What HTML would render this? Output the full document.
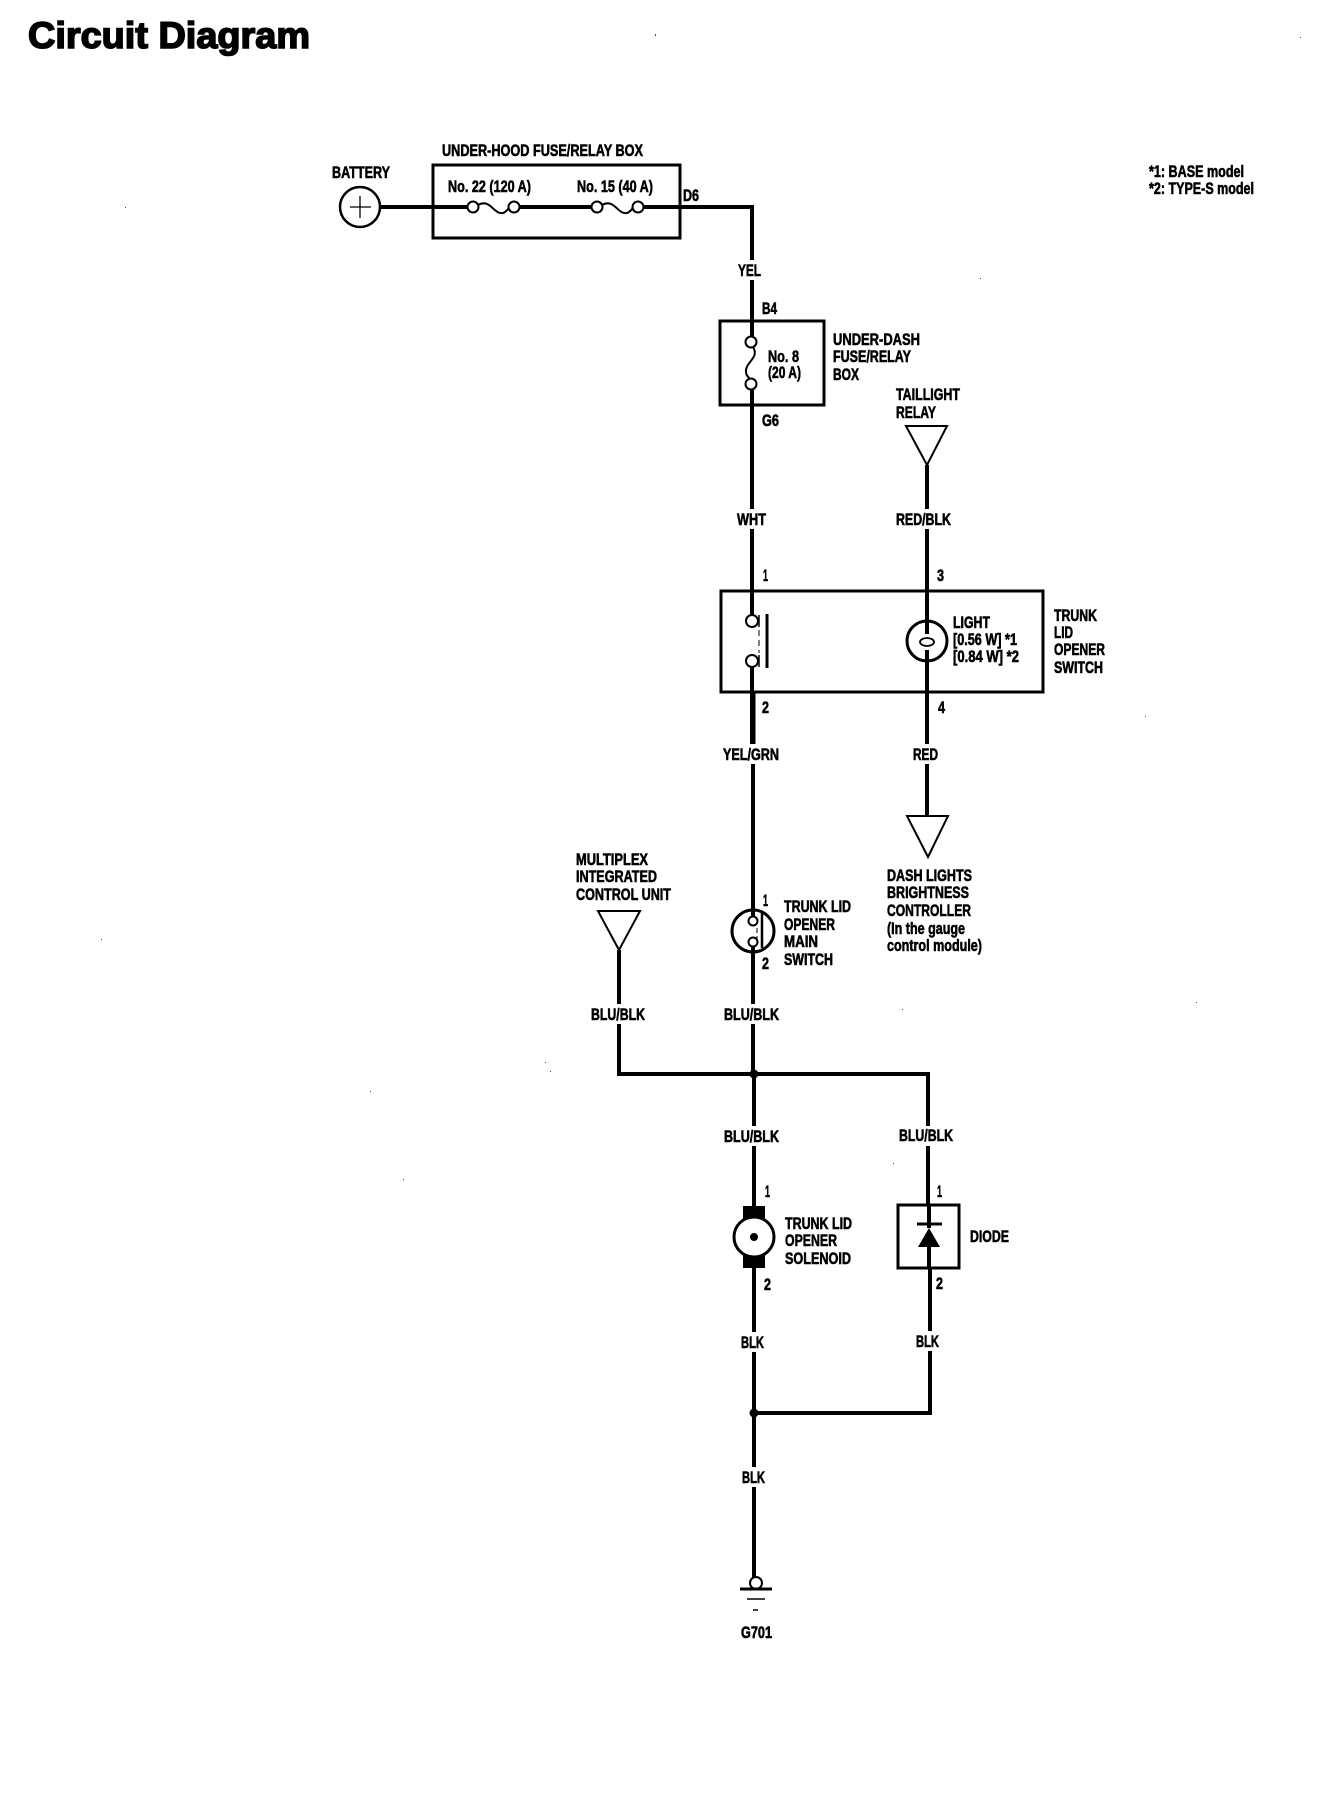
<!DOCTYPE html>
<html><head><meta charset="utf-8"><style>
html,body{margin:0;padding:0;background:#fff}
svg{display:block}
text{font-family:"Liberation Sans",sans-serif;font-weight:bold;font-size:16.5px;fill:#000;stroke:#000;stroke-width:.6}
.w{stroke:#000;stroke-width:4;fill:none}
.b{stroke:#000;stroke-width:3;fill:none}
.t{stroke:#000;stroke-width:2;fill:#fff}
</style></head><body>
<svg width="1328" height="1808" viewBox="0 0 1328 1808" xmlns="http://www.w3.org/2000/svg">
<rect width="1328" height="1808" fill="#fff"/>
<rect class="b" x="433" y="165" width="247" height="73"/>
<rect class="b" x="720" y="321" width="104" height="84"/>
<rect class="b" x="721" y="591" width="322" height="101"/>
<rect class="b" x="898" y="1205" width="61" height="63"/>
<path class="w" d="M380 207H467M520 207H591M644 207H752V336M752 390V591V615M752 667V692V750"/>
<path class="w" d="M753 750V921M753 948V1074H619V950M753 1074H928V1205M754 1074V1206M754 1268V1413V1577M754 1413H930V1268M929 1205V1228M929 1247V1268"/>
<path class="w" d="M927 465V634M927 650V816"/>
<path d="M753 692V750" stroke="#000" stroke-width="5"/>
<circle cx="360" cy="207" r="20" fill="#fff" stroke="#000" stroke-width="2.5"/>
<path d="M350 207H371M360 196V218" stroke="#000" stroke-width="1.3"/>
<circle class="t" cx="473" cy="207" r="5.5"/><circle class="t" cx="514" cy="207" r="5.5"/>
<path d="M478 205C490 198 494 215 503 213C506 212 507 210 509 208" class="t" style="fill:none"/>
<circle class="t" cx="597" cy="207" r="5.5"/><circle class="t" cx="638" cy="207" r="5.5"/>
<path d="M602 205C614 198 618 215 627 213C630 212 631 210 633 208" class="t" style="fill:none"/>
<circle class="t" cx="751" cy="342" r="5.5"/><circle class="t" cx="751" cy="384" r="5.5"/>
<path d="M753 347C760 358 745 362 746 372C746 375 748 377 750 379" class="t" style="fill:none"/>
<circle class="t" cx="752" cy="621" r="6"/><circle class="t" cx="752" cy="661" r="6"/>
<path d="M759 615V627M759 655V667" stroke="#000" stroke-width="1.5"/>
<path d="M759 630V653" stroke="#000" stroke-width="1" stroke-dasharray="6 4"/>
<path d="M767 614V668" stroke="#000" stroke-width="3"/>
<circle cx="927" cy="641" r="20" fill="none" stroke="#000" stroke-width="3"/>
<ellipse cx="927" cy="642" rx="7" ry="4" fill="none" stroke="#000" stroke-width="1.8"/>
<path class="t" d="M906 426H947L927 465Z"/>
<path class="t" d="M907 816H948L928 857Z"/>
<path class="t" d="M598 911H640L619 950Z"/>
<circle cx="753" cy="931" r="21" fill="#fff" stroke="#000" stroke-width="3"/>
<circle class="t" cx="753" cy="921" r="4.5"/><circle class="t" cx="753" cy="942" r="4.5"/>
<path d="M753 910V916M753 947V952" stroke="#000" stroke-width="4"/>
<path d="M762 913V948" stroke="#000" stroke-width="2.5"/>
<path d="M757 928V942" stroke="#000" stroke-width="1" stroke-dasharray="5 3"/>
<circle cx="754" cy="1074" r="4.5"/><circle cx="754" cy="1413" r="4.5"/>
<rect x="743" y="1206" width="22" height="62" fill="#000"/>
<circle cx="754" cy="1237" r="20" fill="#fff" stroke="#000" stroke-width="3"/>
<circle cx="754" cy="1237" r="4"/>
<path d="M917 1224H942" stroke="#000" stroke-width="3"/>
<path d="M929 1228L940 1247H918Z"/>
<circle class="t" cx="756" cy="1583" r="6"/>
<path d="M740 1589H772" stroke="#000" stroke-width="3"/>
<path d="M747 1599H765" stroke="#000" stroke-width="1.5"/>
<path d="M753 1610H758" stroke="#000" stroke-width="1.5"/>
<g fill="#fff">
<rect x="736" y="260" width="30" height="20"/>
<rect x="735" y="509" width="34" height="20"/>
<rect x="894" y="509" width="60" height="20"/>
<rect x="721" y="744" width="60" height="20"/>
<rect x="911" y="744" width="30" height="20"/>
<rect x="589" y="1004" width="58" height="20"/>
<rect x="722" y="1004" width="60" height="20"/>
<rect x="722" y="1126" width="60" height="20"/>
<rect x="897" y="1126" width="58" height="20"/>
<rect x="739" y="1332" width="28" height="20"/>
<rect x="914" y="1331" width="28" height="20"/>
<rect x="740" y="1467" width="28" height="20"/>
</g>
<text x="28" y="48" textLength="282" lengthAdjust="spacingAndGlyphs" style="font-size:37px;stroke-width:1.6">Circuit Diagram</text>
<g>
<text x="442" y="156" textLength="201" lengthAdjust="spacingAndGlyphs">UNDER-HOOD FUSE/RELAY BOX</text>
<text x="332" y="178" textLength="58" lengthAdjust="spacingAndGlyphs">BATTERY</text>
<text x="448" y="192" textLength="83" lengthAdjust="spacingAndGlyphs">No. 22 (120 A)</text>
<text x="577" y="192" textLength="76" lengthAdjust="spacingAndGlyphs">No. 15 (40 A)</text>
<text x="683" y="201" textLength="16" lengthAdjust="spacingAndGlyphs">D6</text>
<text x="738" y="276" textLength="23" lengthAdjust="spacingAndGlyphs">YEL</text>
<text x="762" y="314" textLength="15" lengthAdjust="spacingAndGlyphs">B4</text>
<text x="768" y="362" textLength="31" lengthAdjust="spacingAndGlyphs">No. 8</text>
<text x="768" y="378" textLength="33" lengthAdjust="spacingAndGlyphs">(20 A)</text>
<text x="762" y="426" textLength="17" lengthAdjust="spacingAndGlyphs">G6</text>
<text x="833" y="345" textLength="87" lengthAdjust="spacingAndGlyphs">UNDER-DASH</text>
<text x="833" y="362" textLength="78" lengthAdjust="spacingAndGlyphs">FUSE/RELAY</text>
<text x="833" y="380" textLength="26" lengthAdjust="spacingAndGlyphs">BOX</text>
<text x="896" y="400" textLength="64" lengthAdjust="spacingAndGlyphs">TAILLIGHT</text>
<text x="896" y="418" textLength="40" lengthAdjust="spacingAndGlyphs">RELAY</text>
<text x="737" y="525" textLength="29" lengthAdjust="spacingAndGlyphs">WHT</text>
<text x="896" y="525" textLength="55" lengthAdjust="spacingAndGlyphs">RED/BLK</text>
<text x="763" y="581" textLength="5" lengthAdjust="spacingAndGlyphs">1</text>
<text x="937" y="581" textLength="7" lengthAdjust="spacingAndGlyphs">3</text>
<text x="953" y="628" textLength="37" lengthAdjust="spacingAndGlyphs">LIGHT</text>
<text x="953" y="645" textLength="64" lengthAdjust="spacingAndGlyphs">[0.56 W] *1</text>
<text x="953" y="662" textLength="66" lengthAdjust="spacingAndGlyphs">[0.84 W] *2</text>
<text x="1054" y="621" textLength="43" lengthAdjust="spacingAndGlyphs">TRUNK</text>
<text x="1054" y="638" textLength="19" lengthAdjust="spacingAndGlyphs">LID</text>
<text x="1054" y="655" textLength="51" lengthAdjust="spacingAndGlyphs">OPENER</text>
<text x="1054" y="673" textLength="49" lengthAdjust="spacingAndGlyphs">SWITCH</text>
<text x="762" y="713" textLength="7" lengthAdjust="spacingAndGlyphs">2</text>
<text x="938" y="713" textLength="7" lengthAdjust="spacingAndGlyphs">4</text>
<text x="723" y="760" textLength="56" lengthAdjust="spacingAndGlyphs">YEL/GRN</text>
<text x="913" y="760" textLength="25" lengthAdjust="spacingAndGlyphs">RED</text>
<text x="576" y="865" textLength="72" lengthAdjust="spacingAndGlyphs">MULTIPLEX</text>
<text x="576" y="882" textLength="81" lengthAdjust="spacingAndGlyphs">INTEGRATED</text>
<text x="576" y="900" textLength="95" lengthAdjust="spacingAndGlyphs">CONTROL UNIT</text>
<text x="763" y="906" textLength="5" lengthAdjust="spacingAndGlyphs">1</text>
<text x="784" y="912" textLength="67" lengthAdjust="spacingAndGlyphs">TRUNK LID</text>
<text x="784" y="930" textLength="51" lengthAdjust="spacingAndGlyphs">OPENER</text>
<text x="784" y="947" textLength="34" lengthAdjust="spacingAndGlyphs">MAIN</text>
<text x="784" y="965" textLength="49" lengthAdjust="spacingAndGlyphs">SWITCH</text>
<text x="762" y="969" textLength="7" lengthAdjust="spacingAndGlyphs">2</text>
<text x="591" y="1020" textLength="54" lengthAdjust="spacingAndGlyphs">BLU/BLK</text>
<text x="724" y="1020" textLength="55" lengthAdjust="spacingAndGlyphs">BLU/BLK</text>
<text x="887" y="881" textLength="85" lengthAdjust="spacingAndGlyphs">DASH LIGHTS</text>
<text x="887" y="898" textLength="82" lengthAdjust="spacingAndGlyphs">BRIGHTNESS</text>
<text x="887" y="916" textLength="84" lengthAdjust="spacingAndGlyphs">CONTROLLER</text>
<text x="887" y="934" textLength="78" lengthAdjust="spacingAndGlyphs">(In the gauge</text>
<text x="887" y="951" textLength="95" lengthAdjust="spacingAndGlyphs">control module)</text>
<text x="724" y="1142" textLength="55" lengthAdjust="spacingAndGlyphs">BLU/BLK</text>
<text x="899" y="1141" textLength="54" lengthAdjust="spacingAndGlyphs">BLU/BLK</text>
<text x="765" y="1197" textLength="5" lengthAdjust="spacingAndGlyphs">1</text>
<text x="937" y="1197" textLength="5" lengthAdjust="spacingAndGlyphs">1</text>
<text x="785" y="1229" textLength="67" lengthAdjust="spacingAndGlyphs">TRUNK LID</text>
<text x="785" y="1246" textLength="52" lengthAdjust="spacingAndGlyphs">OPENER</text>
<text x="785" y="1264" textLength="66" lengthAdjust="spacingAndGlyphs">SOLENOID</text>
<text x="970" y="1242" textLength="39" lengthAdjust="spacingAndGlyphs">DIODE</text>
<text x="764" y="1290" textLength="7" lengthAdjust="spacingAndGlyphs">2</text>
<text x="936" y="1289" textLength="7" lengthAdjust="spacingAndGlyphs">2</text>
<text x="741" y="1348" textLength="23" lengthAdjust="spacingAndGlyphs">BLK</text>
<text x="916" y="1347" textLength="23" lengthAdjust="spacingAndGlyphs">BLK</text>
<text x="742" y="1483" textLength="23" lengthAdjust="spacingAndGlyphs">BLK</text>
<text x="741" y="1638" textLength="31" lengthAdjust="spacingAndGlyphs">G701</text>
<text x="1149" y="177" textLength="95" lengthAdjust="spacingAndGlyphs">*1: BASE model</text>
<text x="1149" y="194" textLength="105" lengthAdjust="spacingAndGlyphs">*2: TYPE-S model</text>
</g>
<g fill="#444">
<rect x="655" y="34" width="1" height="2"/><rect x="1300" y="37" width="1" height="1"/>
<rect x="125" y="207" width="1" height="1"/><rect x="980" y="278" width="1" height="1"/>
<rect x="1145" y="716" width="1" height="1"/><rect x="101" y="939" width="1" height="1"/>
<rect x="545" y="1062" width="1" height="1"/><rect x="370" y="1091" width="1" height="1"/>
<rect x="403" y="1179" width="1" height="1"/><rect x="1196" y="1002" width="1" height="1"/>
<rect x="902" y="1009" width="1" height="1"/><rect x="550" y="1071" width="1" height="1"/>
<rect x="893" y="1163" width="1" height="1"/>
</g>
</svg>
</body></html>
